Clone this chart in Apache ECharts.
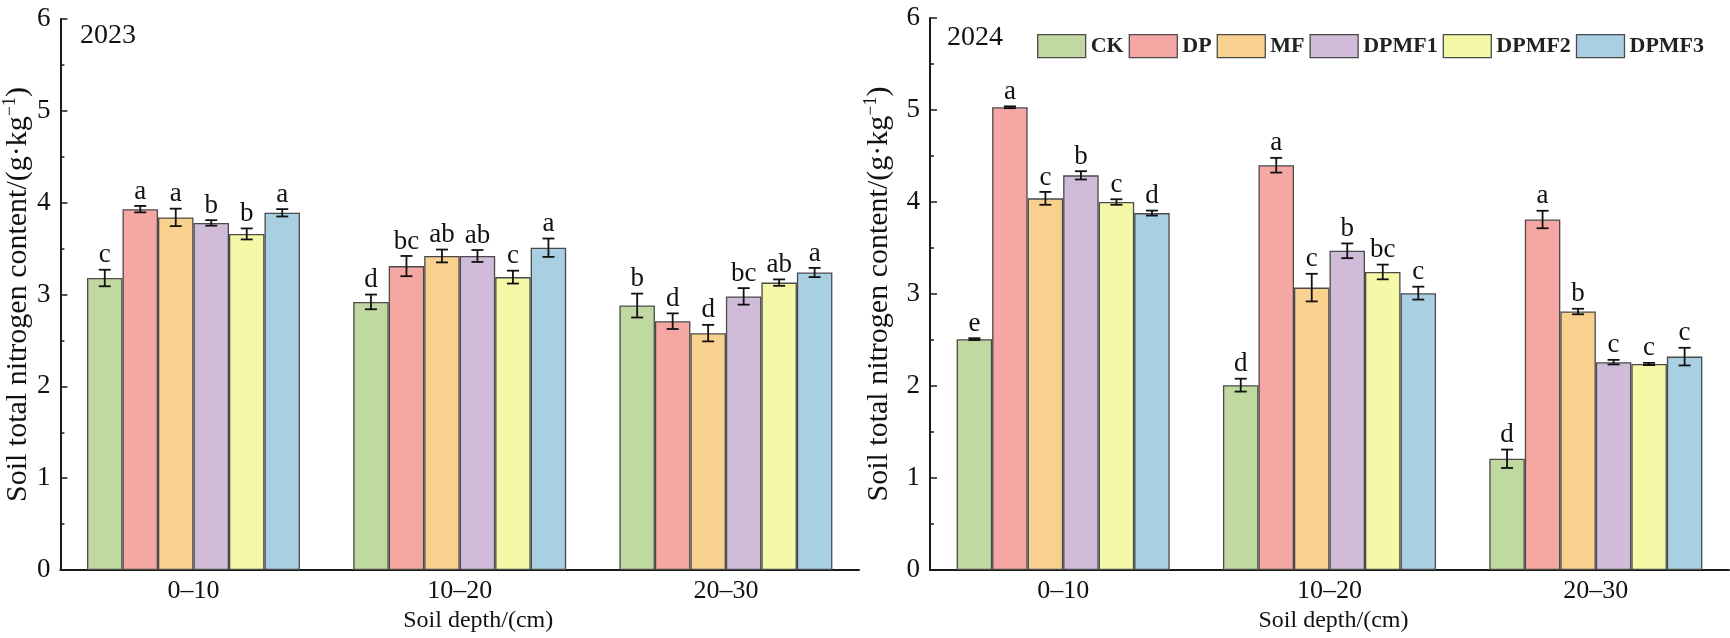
<!DOCTYPE html>
<html>
<head>
<meta charset="utf-8">
<script src="https://cdn.jsdelivr.net/npm/echarts@6/dist/echarts.min.js"></script>
<style>
html,body{margin:0;padding:0;background:#fff;}
#c{width:1730px;height:638px;}
</style>
</head>
<body>
<div id="c"></div>
<script>
const categories = ['0–10', '10–20', '20–30'];
const treatments = ['CK', 'DP', 'MF', 'DPMF1', 'DPMF2', 'DPMF3'];
const yTicks = [0, 1, 2, 3, 4, 5, 6];
const years = ['2023', '2024'];

// rows: treatments, columns: depths
const mean2023 = [
  [3.18, 2.92, 2.88],
  [3.93, 3.31, 2.71],
  [3.84, 3.42, 2.58],
  [3.78, 3.42, 2.98],
  [3.66, 3.19, 3.13],
  [3.89, 3.51, 3.24]
];
const err2023 = [
  [0.09, 0.08, 0.13],
  [0.035, 0.11, 0.085],
  [0.095, 0.07, 0.09],
  [0.03, 0.065, 0.09],
  [0.06, 0.07, 0.035],
  [0.04, 0.1, 0.05]
];
const sig2023 = [
  ['c', 'd', 'b'],
  ['a', 'bc', 'd'],
  ['a', 'ab', 'd'],
  ['b', 'ab', 'bc'],
  ['b', 'c', 'ab'],
  ['a', 'a', 'a']
];
const mean2024 = [
  [2.51, 2.01, 1.21],
  [5.03, 4.40, 3.81],
  [4.04, 3.07, 2.81],
  [4.29, 3.47, 2.26],
  [4.00, 3.24, 2.24],
  [3.88, 3.01, 2.32]
];
const err2024 = [
  [0.01, 0.07, 0.10],
  [0.01, 0.08, 0.095],
  [0.07, 0.15, 0.03],
  [0.045, 0.08, 0.025],
  [0.03, 0.08, 0.012],
  [0.027, 0.07, 0.096]
];
const sig2024 = [
  ['e', 'd', 'd'],
  ['a', 'a', 'a'],
  ['c', 'c', 'b'],
  ['b', 'b', 'c'],
  ['c', 'bc', 'c'],
  ['d', 'c', 'c']
];

const colors = ['#c0d9a0', '#f5a8a3', '#f9d18f', '#d0bcd8', '#f5f8a6', '#a9cfe2'];
const FONT = 'Liberation Serif';
const BAR_CAT_GAP = 0.2;

const chart = echarts.init(document.getElementById('c'), null, {renderer: 'canvas'});

function xAxisCfg(gi, namePad) {
  return {
    type: 'category', gridIndex: gi, data: categories,
    axisLine: {show: true, lineStyle: {color: '#1a1a1a', width: 2}},
    axisTick: {show: false},
    axisLabel: {fontFamily: FONT, fontSize: 26, color: '#111', margin: 8},
    name: 'Soil depth/(cm)', nameLocation: 'middle', nameGap: 32,
    nameTextStyle: {fontFamily: FONT, fontSize: 24, color: '#111', padding: [0, 0, 0, namePad]}
  };
}
function yAxisCfg(gi, nameGap) {
  return {
    type: 'value', gridIndex: gi, min: yTicks[0], max: yTicks[yTicks.length - 1], interval: 1,
    axisLine: {show: true, lineStyle: {color: '#1a1a1a', width: 2}},
    axisTick: {show: true, inside: true, length: 7, lineStyle: {color: '#1a1a1a', width: 1.5}},
    minorTick: {show: true, splitNumber: 2, length: 4, lineStyle: {color: '#1a1a1a', width: 1.5}},
    splitLine: {show: false},
    axisLabel: {fontFamily: FONT, fontSize: 27, color: '#111', margin: 10},
    name: '{m|Soil total nitrogen content/(g·kg}{s|−1}{m|)}',
    nameLocation: 'middle', nameGap: nameGap,
    nameTextStyle: {
      rich: {
        m: {fontFamily: FONT, fontSize: 30, color: '#111', lineHeight: 34},
        s: {fontFamily: FONT, fontSize: 18, color: '#111', verticalAlign: 'top', lineHeight: 34}
      }
    }
  };
}

const series = [];
function addPanel(gi, means, errs, sigs) {
  treatments.forEach((t, s) => {
    series.push({
      type: 'bar', name: t, xAxisIndex: gi, yAxisIndex: gi,
      data: means[s],
      barGap: '0%', barCategoryGap: (BAR_CAT_GAP * 100) + '%',
      itemStyle: {color: colors[s], borderColor: '#4a4a4a', borderWidth: 1.3},
      emphasis: {disabled: true}
    });
  });
  const items = [];
  const letters = [];
  treatments.forEach((t, s) => {
    categories.forEach((c, k) => {
      items.push([k, s, means[s][k], errs[s][k]]);
      letters.push(sigs[s][k]);
    });
  });
  series.push({
    type: 'custom', xAxisIndex: gi, yAxisIndex: gi, z: 10,
    data: items,
    encode: {x: 0, y: 2},
    renderItem: function (params, api) {
      const k = api.value(0), s = api.value(1), m = api.value(2), e = api.value(3);
      const band = api.size([1, 0])[0];
      const bw = band * (1 - BAR_CAT_GAP) / treatments.length;
      const cx = api.coord([k, 0])[0] + (s - (treatments.length - 1) / 2) * bw;
      const yT = api.coord([k, m + e])[1];
      const yB = api.coord([k, m - e])[1];
      const cap = 6;
      const st = {stroke: '#111', lineWidth: 1.8};
      return {
        type: 'group',
        children: [
          {type: 'line', shape: {x1: cx, y1: yT, x2: cx, y2: yB}, style: st},
          {type: 'line', shape: {x1: cx - cap, y1: yT, x2: cx + cap, y2: yT}, style: st},
          {type: 'line', shape: {x1: cx - cap, y1: yB, x2: cx + cap, y2: yB}, style: st},
          {type: 'text', x: cx, y: yT - 1, style: {
            text: letters[params.dataIndex], textAlign: 'center', textVerticalAlign: 'bottom',
            fontFamily: FONT, fontSize: 27, fill: '#111'
          }}
        ]
      };
    }
  });
}
addPanel(0, mean2023, err2023, sig2023);
addPanel(1, mean2024, err2024, sig2024);

chart.setOption({
  animation: false,
  backgroundColor: '#fff',
  grid: [
    {left: 60, top: 19, width: 799, height: 561},
    {left: 930, top: 18, width: 799, height: 561}
  ],
  xAxis: [xAxisCfg(0, 37), xAxisCfg(1, 8)],
  yAxis: [yAxisCfg(0, 24), yAxisCfg(1, 34)],
  legend: {
    data: treatments, left: 1032, top: 29, itemWidth: 48, itemHeight: 23, itemGap: 5,
    icon: 'rect', selectedMode: false,
    itemStyle: {borderColor: '#4a4a4a', borderWidth: 1.3},
    textStyle: {fontFamily: FONT, fontSize: 22, fontWeight: 'bold', color: '#222'}
  },
  graphic: [
    {type: 'text', left: 80, top: 22, style: {text: years[0], fontFamily: FONT, fontSize: 28, fill: '#111'}},
    {type: 'text', left: 947, top: 24, style: {text: years[1], fontFamily: FONT, fontSize: 28, fill: '#111'}}
  ],
  series: series
});
</script>
</body>
</html>
